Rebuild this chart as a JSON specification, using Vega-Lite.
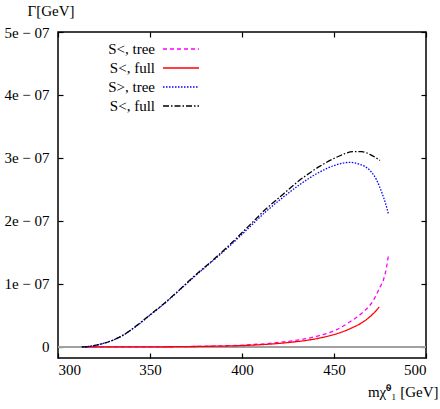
{
  "$schema": "https://vega.github.io/schema/vega-lite/v6.json",
  "width": 368,
  "height": 326,
  "autosize": {"type": "none"},
  "padding": {"left": 58, "top": 32, "right": 14, "bottom": 51},
  "background": "white",
  "config": {
    "view": {"stroke": "black", "strokeWidth": 1.5},
    "font": "Liberation Serif",
    "axis": {
      "labelFont": "Liberation Serif",
      "labelFontSize": 15,
      "labelColor": "black",
      "titleFont": "Liberation Serif",
      "titleFontSize": 15,
      "titleFontWeight": "normal",
      "titleColor": "black",
      "grid": false,
      "domain": false,
      "tickColor": "black",
      "tickWidth": 1.2,
      "tickSize": -5
    },
    "legend": {
      "labelFont": "Liberation Serif",
      "labelFontSize": 15,
      "labelColor": "black",
      "title": null,
      "orient": "none",
      "legendX": 115,
      "legendY": 9,
      "symbolType": "M-2.57,0H2.57",
      "symbolSize": 196,
      "symbolStrokeWidth": 1.3,
      "rowPadding": 3,
      "padding": 0,
      "labelAlign": "right",
      "labelOffset": -34
    }
  },
  "data": {
    "values": [
      {"series": "S<, tree", "m": 315, "G": 0},
      {"series": "S<, tree", "m": 350, "G": 2e-10},
      {"series": "S<, tree", "m": 380, "G": 1.2e-9},
      {"series": "S<, tree", "m": 404, "G": 3.5e-9},
      {"series": "S<, tree", "m": 422.5, "G": 8e-9},
      {"series": "S<, tree", "m": 440.6, "G": 1.7e-8},
      {"series": "S<, tree", "m": 451.5, "G": 2.76e-8},
      {"series": "S<, tree", "m": 458.7, "G": 4.0e-8},
      {"series": "S<, tree", "m": 465.9, "G": 5.56e-8},
      {"series": "S<, tree", "m": 471.4, "G": 7.4e-8},
      {"series": "S<, tree", "m": 475, "G": 9.5e-8},
      {"series": "S<, tree", "m": 476.8, "G": 1.06e-7},
      {"series": "S<, tree", "m": 478.5, "G": 1.26e-7},
      {"series": "S<, tree", "m": 479.6, "G": 1.46e-7},

      {"series": "S<, full", "m": 315, "G": 0},
      {"series": "S<, full", "m": 350, "G": 2e-10},
      {"series": "S<, full", "m": 380, "G": 1e-9},
      {"series": "S<, full", "m": 404, "G": 2.7e-9},
      {"series": "S<, full", "m": 422.5, "G": 6.3e-9},
      {"series": "S<, full", "m": 440.6, "G": 1.33e-8},
      {"series": "S<, full", "m": 451.5, "G": 2.1e-8},
      {"series": "S<, full", "m": 458.7, "G": 2.9e-8},
      {"series": "S<, full", "m": 465.9, "G": 4.0e-8},
      {"series": "S<, full", "m": 471.4, "G": 5.3e-8},
      {"series": "S<, full", "m": 474.6, "G": 6.35e-8},

      {"series": "S>, tree", "m": 313, "G": 0},
      {"series": "S>, tree", "m": 317, "G": 1e-9},
      {"series": "S>, tree", "m": 321, "G": 3e-9},
      {"series": "S>, tree", "m": 325, "G": 6e-9},
      {"series": "S>, tree", "m": 330, "G": 1.1e-8},
      {"series": "S>, tree", "m": 335, "G": 1.8e-8},
      {"series": "S>, tree", "m": 340, "G": 2.75e-8},
      {"series": "S>, tree", "m": 345, "G": 3.85e-8},
      {"series": "S>, tree", "m": 350, "G": 5.05e-8},
      {"series": "S>, tree", "m": 355.4, "G": 6.3e-8},
      {"series": "S>, tree", "m": 365, "G": 8.75e-8},
      {"series": "S>, tree", "m": 373.5, "G": 1.10e-7},
      {"series": "S>, tree", "m": 385, "G": 1.39e-7},
      {"series": "S>, tree", "m": 395, "G": 1.65e-7},
      {"series": "S>, tree", "m": 404, "G": 1.90e-7},
      {"series": "S>, tree", "m": 413, "G": 2.15e-7},
      {"series": "S>, tree", "m": 422.5, "G": 2.38e-7},
      {"series": "S>, tree", "m": 431.5, "G": 2.58e-7},
      {"series": "S>, tree", "m": 442.4, "G": 2.78e-7},
      {"series": "S>, tree", "m": 450, "G": 2.88e-7},
      {"series": "S>, tree", "m": 458.7, "G": 2.93e-7},
      {"series": "S>, tree", "m": 464, "G": 2.90e-7},
      {"series": "S>, tree", "m": 469.6, "G": 2.80e-7},
      {"series": "S>, tree", "m": 473, "G": 2.66e-7},
      {"series": "S>, tree", "m": 476, "G": 2.45e-7},
      {"series": "S>, tree", "m": 478, "G": 2.28e-7},
      {"series": "S>, tree", "m": 479.5, "G": 2.12e-7},

      {"series": "S<, full ", "m": 312.9, "G": 0},
      {"series": "S<, full ", "m": 317, "G": 1e-9},
      {"series": "S<, full ", "m": 321, "G": 3e-9},
      {"series": "S<, full ", "m": 325, "G": 6e-9},
      {"series": "S<, full ", "m": 330, "G": 1.1e-8},
      {"series": "S<, full ", "m": 335, "G": 1.8e-8},
      {"series": "S<, full ", "m": 340, "G": 2.8e-8},
      {"series": "S<, full ", "m": 345, "G": 3.9e-8},
      {"series": "S<, full ", "m": 350, "G": 5.1e-8},
      {"series": "S<, full ", "m": 355.4, "G": 6.35e-8},
      {"series": "S<, full ", "m": 365, "G": 8.8e-8},
      {"series": "S<, full ", "m": 373.5, "G": 1.11e-7},
      {"series": "S<, full ", "m": 385, "G": 1.40e-7},
      {"series": "S<, full ", "m": 395, "G": 1.67e-7},
      {"series": "S<, full ", "m": 404, "G": 1.93e-7},
      {"series": "S<, full ", "m": 413, "G": 2.19e-7},
      {"series": "S<, full ", "m": 422.5, "G": 2.43e-7},
      {"series": "S<, full ", "m": 430.6, "G": 2.63e-7},
      {"series": "S<, full ", "m": 442.4, "G": 2.87e-7},
      {"series": "S<, full ", "m": 452, "G": 3.02e-7},
      {"series": "S<, full ", "m": 460.5, "G": 3.10e-7},
      {"series": "S<, full ", "m": 465, "G": 3.10e-7},
      {"series": "S<, full ", "m": 470, "G": 3.05e-7},
      {"series": "S<, full ", "m": 475, "G": 2.96e-7}
    ]
  },
  "resolve": {"axis": {"x": "independent", "y": "independent"}},
  "layer": [
    {
      "mark": {"type": "rule", "color": "#a0a0a0", "strokeWidth": 1},
      "encoding": {
        "x": {
          "datum": 300,
          "type": "quantitative",
          "scale": {"domain": [300, 500], "nice": false, "zero": false},
          "axis": {"orient": "top", "labels": false, "title": null, "values": [300, 350, 400, 450, 500]}
        },
        "x2": {"datum": 500},
        "y": {
          "datum": 0,
          "type": "quantitative",
          "scale": {"domain": [-1.75e-8, 5e-7], "nice": false, "zero": false},
          "axis": {"orient": "right", "labels": false, "title": null, "values": [0, 1e-7, 2e-7, 3e-7, 4e-7, 5e-7]}
        }
      }
    },
    {
      "mark": {"type": "line", "strokeWidth": 1.3, "interpolate": "monotone"},
      "encoding": {
        "x": {
          "field": "m",
          "type": "quantitative",
          "scale": {"domain": [300, 500], "nice": false, "zero": false},
          "axis": {
            "orient": "bottom",
            "values": [300, 350, 400, 450, 500],
            "labelPadding": 9,
            "title": "mχ̃⁰₁ [GeV]",
            "titleAnchor": "end",
            "titleAlign": "right",
            "titleBaseline": "middle",
            "titleX": 380,
            "titleY": 33
          }
        },
        "y": {
          "field": "G",
          "type": "quantitative",
          "scale": {"domain": [-1.75e-8, 5e-7], "nice": false, "zero": false},
          "axis": {
            "orient": "left",
            "values": [0, 1e-7, 2e-7, 3e-7, 4e-7, 5e-7],
            "labelExpr": "datum.value == 0 ? '0' : round(datum.value * 1e7) + 'e − 07'",
            "labelPadding": 14,
            "title": "Γ[GeV]",
            "titleAngle": 0,
            "titleAlign": "left",
            "titleBaseline": "middle",
            "titleX": -31,
            "titleY": -22
          }
        },
        "color": {
          "field": "series",
          "type": "nominal",
          "scale": {
            "domain": ["S<, tree", "S<, full", "S>, tree", "S<, full "],
            "range": ["#ff00ff", "#ff0000", "#0000ff", "#000000"]
          }
        },
        "strokeDash": {
          "field": "series",
          "type": "nominal",
          "scale": {
            "domain": ["S<, tree", "S<, full", "S>, tree", "S<, full "],
            "range": [[4, 3], [1, 0], [1.5, 1.5], [6, 2, 1.5, 2]]
          }
        }
      }
    }
  ]
}
